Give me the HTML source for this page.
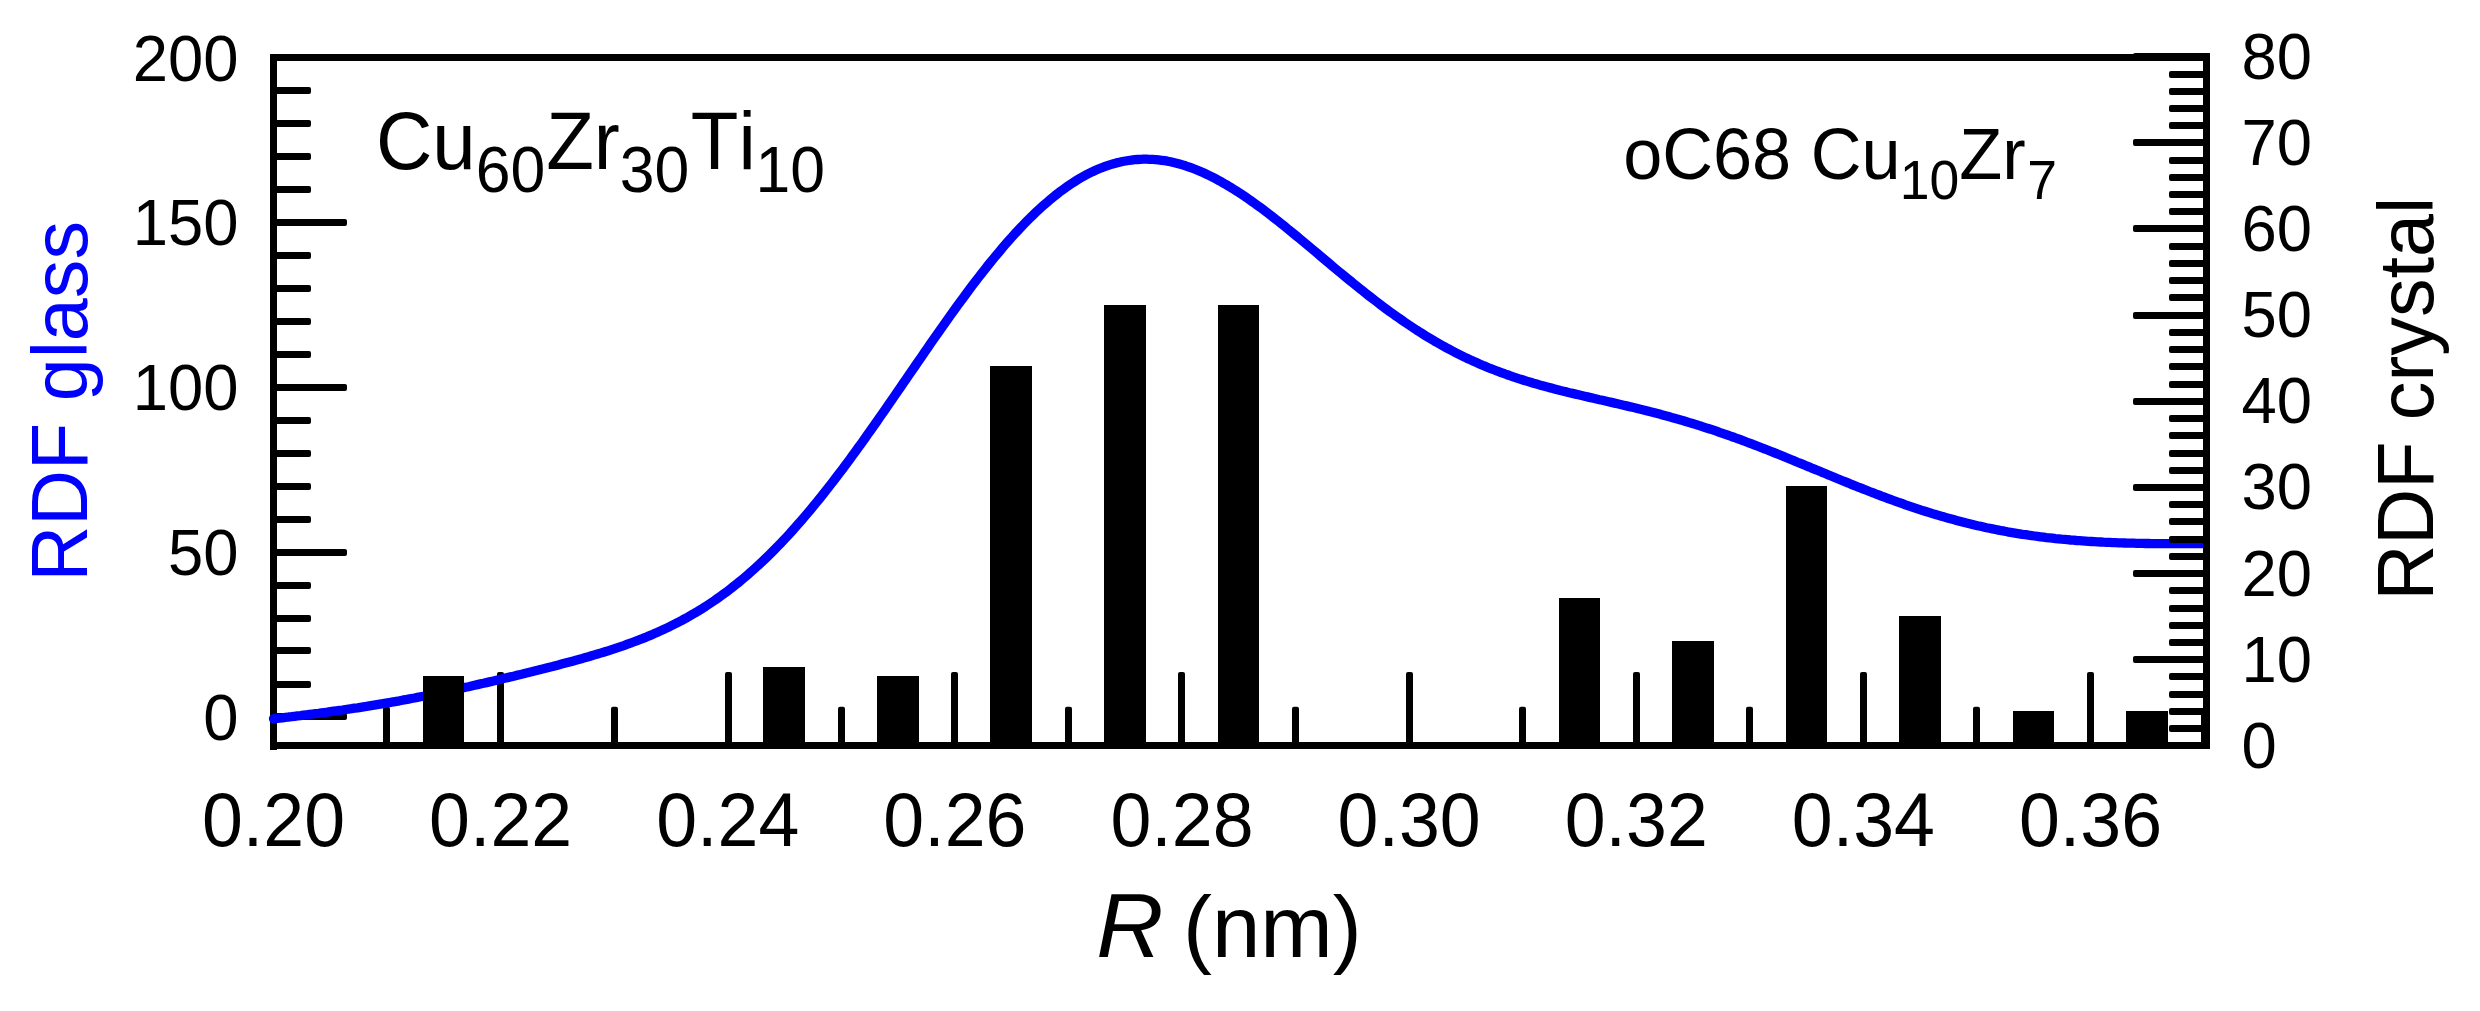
<!DOCTYPE html>
<html lang="en"><head><meta charset="utf-8"><title>RDF glass vs crystal</title>
<style>html,body{margin:0;padding:0;background:#fff;}body{width:2480px;height:1011px;overflow:hidden;}svg{display:block;}text{font-family:"Liberation Sans",sans-serif;font-kerning:none;}</style></head><body>
<svg width="2480" height="1011" viewBox="0 0 2480 1011">
<rect width="2480" height="1011" fill="#fff"/>
<g fill="#000">
<rect x="273.50" y="713.00" width="73.50" height="7" rx="2"/>
<rect x="273.50" y="681.00" width="37.50" height="7" rx="2"/>
<rect x="273.50" y="647.00" width="37.50" height="7" rx="2"/>
<rect x="273.50" y="615.00" width="37.50" height="7" rx="2"/>
<rect x="273.50" y="582.00" width="37.50" height="7" rx="2"/>
<rect x="273.50" y="549.00" width="73.50" height="7" rx="2"/>
<rect x="273.50" y="516.00" width="37.50" height="7" rx="2"/>
<rect x="273.50" y="483.00" width="37.50" height="7" rx="2"/>
<rect x="273.50" y="450.00" width="37.50" height="7" rx="2"/>
<rect x="273.50" y="417.00" width="37.50" height="7" rx="2"/>
<rect x="273.50" y="384.00" width="73.50" height="7" rx="2"/>
<rect x="273.50" y="351.00" width="37.50" height="7" rx="2"/>
<rect x="273.50" y="318.00" width="37.50" height="7" rx="2"/>
<rect x="273.50" y="285.00" width="37.50" height="7" rx="2"/>
<rect x="273.50" y="252.00" width="37.50" height="7" rx="2"/>
<rect x="273.50" y="219.00" width="73.50" height="7" rx="2"/>
<rect x="273.50" y="186.00" width="37.50" height="7" rx="2"/>
<rect x="273.50" y="153.00" width="37.50" height="7" rx="2"/>
<rect x="273.50" y="120.00" width="37.50" height="7" rx="2"/>
<rect x="273.50" y="87.00" width="37.50" height="7" rx="2"/>
<rect x="383.00" y="706.75" width="7" height="38.75" rx="2"/>
<rect x="497.00" y="672.00" width="7" height="73.50" rx="2"/>
<rect x="611.00" y="706.75" width="7" height="38.75" rx="2"/>
<rect x="725.00" y="672.00" width="7" height="73.50" rx="2"/>
<rect x="838.00" y="706.75" width="7" height="38.75" rx="2"/>
<rect x="951.00" y="672.00" width="7" height="73.50" rx="2"/>
<rect x="1065.00" y="706.75" width="7" height="38.75" rx="2"/>
<rect x="1178.00" y="672.00" width="7" height="73.50" rx="2"/>
<rect x="1292.00" y="706.75" width="7" height="38.75" rx="2"/>
<rect x="1406.00" y="672.00" width="7" height="73.50" rx="2"/>
<rect x="1519.00" y="706.75" width="7" height="38.75" rx="2"/>
<rect x="1633.00" y="672.00" width="7" height="73.50" rx="2"/>
<rect x="1746.00" y="706.75" width="7" height="38.75" rx="2"/>
<rect x="1860.00" y="672.00" width="7" height="73.50" rx="2"/>
<rect x="1973.00" y="706.75" width="7" height="38.75" rx="2"/>
<rect x="2087.00" y="672.00" width="7" height="73.50" rx="2"/>
</g>
<g stroke="#000" stroke-width="7" stroke-linecap="square" stroke-linejoin="miter" fill="none">
<polyline points="273.5,746.5 273.5,57.5 2206.5,57.5"/>
<line x1="273.5" y1="745.5" x2="2206.5" y2="745.5"/>
</g>
<path d="M273.5,718.8 L276.5,718.5 L279.5,718.1 L282.5,717.8 L285.5,717.4 L288.5,717.0 L291.5,716.7 L294.5,716.3 L297.5,715.9 L300.5,715.6 L303.5,715.2 L306.5,714.8 L309.5,714.4 L312.5,714.0 L315.5,713.6 L318.5,713.3 L321.5,712.9 L324.5,712.5 L327.5,712.1 L330.5,711.6 L333.5,711.2 L336.5,710.8 L339.5,710.4 L342.5,710.0 L345.5,709.5 L348.5,709.1 L351.5,708.7 L354.5,708.2 L357.5,707.8 L360.5,707.3 L363.5,706.8 L366.5,706.4 L369.5,705.9 L372.5,705.4 L375.5,704.9 L378.5,704.4 L381.5,703.9 L384.5,703.4 L387.5,702.9 L390.5,702.4 L393.5,701.8 L396.5,701.3 L399.5,700.8 L402.5,700.2 L405.5,699.7 L408.5,699.1 L411.5,698.5 L414.5,698.0 L417.5,697.4 L420.5,696.8 L423.5,696.2 L426.5,695.6 L429.5,695.0 L432.5,694.4 L435.5,693.8 L438.5,693.2 L441.5,692.5 L444.5,691.9 L447.5,691.3 L450.5,690.6 L453.5,690.0 L456.5,689.3 L459.5,688.7 L462.5,688.0 L465.5,687.3 L468.5,686.7 L471.5,686.0 L474.5,685.3 L477.5,684.6 L480.5,683.9 L483.5,683.3 L486.5,682.6 L489.5,681.9 L492.5,681.2 L495.5,680.5 L498.5,679.8 L501.5,679.0 L504.5,678.3 L507.5,677.6 L510.5,676.9 L513.5,676.2 L516.5,675.4 L519.5,674.7 L522.5,674.0 L525.5,673.2 L528.5,672.5 L531.5,671.8 L534.5,671.0 L537.5,670.3 L540.5,669.5 L543.5,668.8 L546.5,668.0 L549.5,667.2 L552.5,666.5 L555.5,665.7 L558.5,664.9 L561.5,664.1 L564.5,663.3 L567.5,662.5 L570.5,661.7 L573.5,660.9 L576.5,660.1 L579.5,659.2 L582.5,658.4 L585.5,657.5 L588.5,656.7 L591.5,655.8 L594.5,654.9 L597.5,654.0 L600.5,653.1 L603.5,652.2 L606.5,651.3 L609.5,650.3 L612.5,649.3 L615.5,648.3 L618.5,647.3 L621.5,646.3 L624.5,645.3 L627.5,644.2 L630.5,643.1 L633.5,642.0 L636.5,640.9 L639.5,639.7 L642.5,638.6 L645.5,637.4 L648.5,636.1 L651.5,634.9 L654.5,633.6 L657.5,632.3 L660.5,630.9 L663.5,629.5 L666.5,628.1 L669.5,626.7 L672.5,625.2 L675.5,623.7 L678.5,622.1 L681.5,620.6 L684.5,618.9 L687.5,617.3 L690.5,615.6 L693.5,613.8 L696.5,612.1 L699.5,610.2 L702.5,608.4 L705.5,606.5 L708.5,604.5 L711.5,602.5 L714.5,600.5 L717.5,598.4 L720.5,596.3 L723.5,594.1 L726.5,591.9 L729.5,589.6 L732.5,587.3 L735.5,584.9 L738.5,582.5 L741.5,580.0 L744.5,577.5 L747.5,574.9 L750.5,572.3 L753.5,569.6 L756.5,566.9 L759.5,564.2 L762.5,561.3 L765.5,558.5 L768.5,555.6 L771.5,552.6 L774.5,549.6 L777.5,546.5 L780.5,543.4 L783.5,540.3 L786.5,537.1 L789.5,533.8 L792.5,530.5 L795.5,527.1 L798.5,523.7 L801.5,520.3 L804.5,516.8 L807.5,513.3 L810.5,509.7 L813.5,506.1 L816.5,502.4 L819.5,498.7 L822.5,495.0 L825.5,491.2 L828.5,487.4 L831.5,483.5 L834.5,479.6 L837.5,475.7 L840.5,471.7 L843.5,467.8 L846.5,463.7 L849.5,459.7 L852.5,455.6 L855.5,451.5 L858.5,447.3 L861.5,443.2 L864.5,439.0 L867.5,434.7 L870.5,430.5 L873.5,426.3 L876.5,422.0 L879.5,417.7 L882.5,413.4 L885.5,409.1 L888.5,404.7 L891.5,400.4 L894.5,396.0 L897.5,391.7 L900.5,387.3 L903.5,382.9 L906.5,378.6 L909.5,374.2 L912.5,369.8 L915.5,365.5 L918.5,361.1 L921.5,356.8 L924.5,352.4 L927.5,348.1 L930.5,343.7 L933.5,339.4 L936.5,335.1 L939.5,330.8 L942.5,326.6 L945.5,322.3 L948.5,318.1 L951.5,313.9 L954.5,309.7 L957.5,305.6 L960.5,301.5 L963.5,297.4 L966.5,293.4 L969.5,289.3 L972.5,285.3 L975.5,281.4 L978.5,277.5 L981.5,273.6 L984.5,269.8 L987.5,266.0 L990.5,262.3 L993.5,258.6 L996.5,255.0 L999.5,251.4 L1002.5,247.8 L1005.5,244.3 L1008.5,240.9 L1011.5,237.5 L1014.5,234.2 L1017.5,231.0 L1020.5,227.8 L1023.5,224.6 L1026.5,221.5 L1029.5,218.5 L1032.5,215.6 L1035.5,212.7 L1038.5,209.9 L1041.5,207.1 L1044.5,204.5 L1047.5,201.9 L1050.5,199.3 L1053.5,196.9 L1056.5,194.5 L1059.5,192.1 L1062.5,189.9 L1065.5,187.7 L1068.5,185.6 L1071.5,183.6 L1074.5,181.7 L1077.5,179.8 L1080.5,178.0 L1083.5,176.3 L1086.5,174.7 L1089.5,173.2 L1092.5,171.7 L1095.5,170.3 L1098.5,169.0 L1101.5,167.8 L1104.5,166.7 L1107.5,165.6 L1110.5,164.6 L1113.5,163.7 L1116.5,162.9 L1119.5,162.2 L1122.5,161.5 L1125.5,161.0 L1128.5,160.5 L1131.5,160.1 L1134.5,159.7 L1137.5,159.5 L1140.5,159.3 L1143.5,159.2 L1146.5,159.2 L1149.5,159.3 L1152.5,159.4 L1155.5,159.6 L1158.5,159.9 L1161.5,160.3 L1164.5,160.7 L1167.5,161.2 L1170.5,161.8 L1173.5,162.5 L1176.5,163.2 L1179.5,164.0 L1182.5,164.9 L1185.5,165.8 L1188.5,166.8 L1191.5,167.9 L1194.5,169.0 L1197.5,170.2 L1200.5,171.5 L1203.5,172.8 L1206.5,174.2 L1209.5,175.6 L1212.5,177.1 L1215.5,178.7 L1218.5,180.3 L1221.5,181.9 L1224.5,183.7 L1227.5,185.4 L1230.5,187.2 L1233.5,189.1 L1236.5,191.0 L1239.5,192.9 L1242.5,194.9 L1245.5,196.9 L1248.5,199.0 L1251.5,201.1 L1254.5,203.2 L1257.5,205.4 L1260.5,207.6 L1263.5,209.8 L1266.5,212.1 L1269.5,214.4 L1272.5,216.7 L1275.5,219.1 L1278.5,221.4 L1281.5,223.8 L1284.5,226.2 L1287.5,228.7 L1290.5,231.1 L1293.5,233.6 L1296.5,236.0 L1299.5,238.5 L1302.5,241.0 L1305.5,243.5 L1308.5,246.0 L1311.5,248.5 L1314.5,251.0 L1317.5,253.6 L1320.5,256.1 L1323.5,258.6 L1326.5,261.1 L1329.5,263.6 L1332.5,266.2 L1335.5,268.7 L1338.5,271.2 L1341.5,273.6 L1344.5,276.1 L1347.5,278.6 L1350.5,281.0 L1353.5,283.5 L1356.5,285.9 L1359.5,288.3 L1362.5,290.7 L1365.5,293.1 L1368.5,295.5 L1371.5,297.8 L1374.5,300.1 L1377.5,302.4 L1380.5,304.7 L1383.5,306.9 L1386.5,309.2 L1389.5,311.4 L1392.5,313.5 L1395.5,315.7 L1398.5,317.8 L1401.5,319.9 L1404.5,322.0 L1407.5,324.0 L1410.5,326.0 L1413.5,328.0 L1416.5,330.0 L1419.5,331.9 L1422.5,333.8 L1425.5,335.7 L1428.5,337.5 L1431.5,339.3 L1434.5,341.1 L1437.5,342.8 L1440.5,344.5 L1443.5,346.2 L1446.5,347.8 L1449.5,349.4 L1452.5,351.0 L1455.5,352.6 L1458.5,354.1 L1461.5,355.6 L1464.5,357.1 L1467.5,358.5 L1470.5,359.9 L1473.5,361.3 L1476.5,362.6 L1479.5,363.9 L1482.5,365.2 L1485.5,366.4 L1488.5,367.7 L1491.5,368.9 L1494.5,370.0 L1497.5,371.2 L1500.5,372.3 L1503.5,373.4 L1506.5,374.5 L1509.5,375.5 L1512.5,376.6 L1515.5,377.6 L1518.5,378.6 L1521.5,379.5 L1524.5,380.5 L1527.5,381.4 L1530.5,382.3 L1533.5,383.2 L1536.5,384.0 L1539.5,384.9 L1542.5,385.7 L1545.5,386.5 L1548.5,387.4 L1551.5,388.1 L1554.5,388.9 L1557.5,389.7 L1560.5,390.5 L1563.5,391.2 L1566.5,391.9 L1569.5,392.7 L1572.5,393.4 L1575.5,394.1 L1578.5,394.8 L1581.5,395.5 L1584.5,396.2 L1587.5,396.9 L1590.5,397.6 L1593.5,398.3 L1596.5,399.0 L1599.5,399.7 L1602.5,400.3 L1605.5,401.0 L1608.5,401.7 L1611.5,402.4 L1614.5,403.1 L1617.5,403.8 L1620.5,404.5 L1623.5,405.2 L1626.5,405.9 L1629.5,406.6 L1632.5,407.3 L1635.5,408.0 L1638.5,408.8 L1641.5,409.5 L1644.5,410.2 L1647.5,411.0 L1650.5,411.8 L1653.5,412.5 L1656.5,413.3 L1659.5,414.1 L1662.5,414.9 L1665.5,415.7 L1668.5,416.5 L1671.5,417.4 L1674.5,418.2 L1677.5,419.1 L1680.5,419.9 L1683.5,420.8 L1686.5,421.7 L1689.5,422.6 L1692.5,423.5 L1695.5,424.4 L1698.5,425.4 L1701.5,426.3 L1704.5,427.3 L1707.5,428.3 L1710.5,429.2 L1713.5,430.2 L1716.5,431.2 L1719.5,432.3 L1722.5,433.3 L1725.5,434.3 L1728.5,435.4 L1731.5,436.5 L1734.5,437.5 L1737.5,438.6 L1740.5,439.7 L1743.5,440.8 L1746.5,442.0 L1749.5,443.1 L1752.5,444.2 L1755.5,445.4 L1758.5,446.5 L1761.5,447.7 L1764.5,448.9 L1767.5,450.0 L1770.5,451.2 L1773.5,452.4 L1776.5,453.6 L1779.5,454.8 L1782.5,456.0 L1785.5,457.3 L1788.5,458.5 L1791.5,459.7 L1794.5,460.9 L1797.5,462.2 L1800.5,463.4 L1803.5,464.6 L1806.5,465.9 L1809.5,467.1 L1812.5,468.4 L1815.5,469.6 L1818.5,470.8 L1821.5,472.1 L1824.5,473.3 L1827.5,474.6 L1830.5,475.8 L1833.5,477.0 L1836.5,478.3 L1839.5,479.5 L1842.5,480.7 L1845.5,481.9 L1848.5,483.1 L1851.5,484.4 L1854.5,485.6 L1857.5,486.8 L1860.5,487.9 L1863.5,489.1 L1866.5,490.3 L1869.5,491.5 L1872.5,492.6 L1875.5,493.8 L1878.5,494.9 L1881.5,496.1 L1884.5,497.2 L1887.5,498.3 L1890.5,499.4 L1893.5,500.5 L1896.5,501.6 L1899.5,502.6 L1902.5,503.7 L1905.5,504.8 L1908.5,505.8 L1911.5,506.8 L1914.5,507.8 L1917.5,508.8 L1920.5,509.8 L1923.5,510.8 L1926.5,511.7 L1929.5,512.6 L1932.5,513.6 L1935.5,514.5 L1938.5,515.4 L1941.5,516.3 L1944.5,517.1 L1947.5,518.0 L1950.5,518.8 L1953.5,519.6 L1956.5,520.4 L1959.5,521.2 L1962.5,522.0 L1965.5,522.8 L1968.5,523.5 L1971.5,524.2 L1974.5,525.0 L1977.5,525.7 L1980.5,526.3 L1983.5,527.0 L1986.5,527.7 L1989.5,528.3 L1992.5,528.9 L1995.5,529.5 L1998.5,530.1 L2001.5,530.7 L2004.5,531.2 L2007.5,531.8 L2010.5,532.3 L2013.5,532.8 L2016.5,533.3 L2019.5,533.8 L2022.5,534.3 L2025.5,534.7 L2028.5,535.2 L2031.5,535.6 L2034.5,536.0 L2037.5,536.4 L2040.5,536.8 L2043.5,537.2 L2046.5,537.6 L2049.5,537.9 L2052.5,538.2 L2055.5,538.6 L2058.5,538.9 L2061.5,539.2 L2064.5,539.4 L2067.5,539.7 L2070.5,540.0 L2073.5,540.2 L2076.5,540.5 L2079.5,540.7 L2082.5,540.9 L2085.5,541.1 L2088.5,541.3 L2091.5,541.5 L2094.5,541.7 L2097.5,541.9 L2100.5,542.0 L2103.5,542.2 L2106.5,542.3 L2109.5,542.4 L2112.5,542.6 L2115.5,542.7 L2118.5,542.8 L2121.5,542.9 L2124.5,543.0 L2127.5,543.1 L2130.5,543.2 L2133.5,543.2 L2136.5,543.3 L2139.5,543.4 L2142.5,543.4 L2145.5,543.5 L2148.5,543.5 L2151.5,543.6 L2154.5,543.6 L2157.5,543.6 L2160.5,543.6 L2163.5,543.7 L2166.5,543.7 L2169.5,543.7 L2172.5,543.7 L2175.5,543.7 L2178.5,543.7 L2181.5,543.7 L2184.5,543.7 L2187.5,543.7 L2190.5,543.7 L2193.5,543.7 L2196.5,543.7 L2199.5,543.7 L2202.5,543.7" fill="none" stroke="#0000ff" stroke-width="9.3" stroke-linecap="round" stroke-linejoin="round"/>
<g fill="#000">
<rect x="2169.00" y="725.00" width="37.50" height="7" rx="2"/>
<rect x="2169.00" y="708.00" width="37.50" height="7" rx="2"/>
<rect x="2169.00" y="691.00" width="37.50" height="7" rx="2"/>
<rect x="2169.00" y="673.00" width="37.50" height="7" rx="2"/>
<rect x="2133.00" y="656.00" width="73.50" height="7" rx="2"/>
<rect x="2169.00" y="639.00" width="37.50" height="7" rx="2"/>
<rect x="2169.00" y="622.00" width="37.50" height="7" rx="2"/>
<rect x="2169.00" y="605.00" width="37.50" height="7" rx="2"/>
<rect x="2169.00" y="587.00" width="37.50" height="7" rx="2"/>
<rect x="2133.00" y="570.00" width="73.50" height="7" rx="2"/>
<rect x="2169.00" y="553.00" width="37.50" height="7" rx="2"/>
<rect x="2169.00" y="536.00" width="37.50" height="7" rx="2"/>
<rect x="2169.00" y="518.00" width="37.50" height="7" rx="2"/>
<rect x="2169.00" y="501.00" width="37.50" height="7" rx="2"/>
<rect x="2133.00" y="484.00" width="73.50" height="7" rx="2"/>
<rect x="2169.00" y="467.00" width="37.50" height="7" rx="2"/>
<rect x="2169.00" y="450.00" width="37.50" height="7" rx="2"/>
<rect x="2169.00" y="432.00" width="37.50" height="7" rx="2"/>
<rect x="2169.00" y="415.00" width="37.50" height="7" rx="2"/>
<rect x="2133.00" y="398.00" width="73.50" height="7" rx="2"/>
<rect x="2169.00" y="381.00" width="37.50" height="7" rx="2"/>
<rect x="2169.00" y="363.00" width="37.50" height="7" rx="2"/>
<rect x="2169.00" y="346.00" width="37.50" height="7" rx="2"/>
<rect x="2169.00" y="329.00" width="37.50" height="7" rx="2"/>
<rect x="2133.00" y="312.00" width="73.50" height="7" rx="2"/>
<rect x="2169.00" y="294.00" width="37.50" height="7" rx="2"/>
<rect x="2169.00" y="277.00" width="37.50" height="7" rx="2"/>
<rect x="2169.00" y="260.00" width="37.50" height="7" rx="2"/>
<rect x="2169.00" y="243.00" width="37.50" height="7" rx="2"/>
<rect x="2133.00" y="225.00" width="73.50" height="7" rx="2"/>
<rect x="2169.00" y="208.00" width="37.50" height="7" rx="2"/>
<rect x="2169.00" y="191.00" width="37.50" height="7" rx="2"/>
<rect x="2169.00" y="174.00" width="37.50" height="7" rx="2"/>
<rect x="2169.00" y="157.00" width="37.50" height="7" rx="2"/>
<rect x="2133.00" y="139.00" width="73.50" height="7" rx="2"/>
<rect x="2169.00" y="122.00" width="37.50" height="7" rx="2"/>
<rect x="2169.00" y="105.00" width="37.50" height="7" rx="2"/>
<rect x="2169.00" y="88.00" width="37.50" height="7" rx="2"/>
<rect x="2169.00" y="71.00" width="37.50" height="7" rx="2"/>
<rect x="2133.00" y="53.00" width="73.50" height="7" rx="2"/>
</g>
<line x1="2206.5" y1="56.5" x2="2206.5" y2="745.5" stroke="#000" stroke-width="7" stroke-linecap="square"/>
<g fill="#000" shape-rendering="crispEdges">
<rect x="423" y="676" width="41" height="69.5"/>
<rect x="763" y="667" width="42" height="78.5"/>
<rect x="877" y="676" width="42" height="69.5"/>
<rect x="990" y="366" width="42" height="379.5"/>
<rect x="1104" y="305" width="42" height="440.5"/>
<rect x="1218" y="305" width="41" height="440.5"/>
<rect x="1559" y="598" width="41" height="147.5"/>
<rect x="1672" y="641" width="42" height="104.5"/>
<rect x="1786" y="486" width="41" height="259.5"/>
<rect x="1899" y="615.5" width="42" height="130.0"/>
<rect x="2013" y="711" width="41" height="34.5"/>
<rect x="2126" y="711" width="42" height="34.5"/>
<rect x="2201" y="714.5" width="3" height="30"/>
</g>
<text transform="translate(238.50,739.50) scale(1,1.023)" font-size="63.4" text-anchor="end" fill="#000">0</text>
<text transform="translate(238.50,575.12) scale(1,1.023)" font-size="63.4" text-anchor="end" fill="#000">50</text>
<text transform="translate(238.50,410.25) scale(1,1.023)" font-size="63.4" text-anchor="end" fill="#000">100</text>
<text transform="translate(238.50,245.38) scale(1,1.023)" font-size="63.4" text-anchor="end" fill="#000">150</text>
<text transform="translate(238.50,80.50) scale(1,1.023)" font-size="63.4" text-anchor="end" fill="#000">200</text>
<text transform="translate(2241.50,767.60) scale(1,1.023)" font-size="63.4" text-anchor="start" fill="#000">0</text>
<text transform="translate(2241.50,681.55) scale(1,1.023)" font-size="63.4" text-anchor="start" fill="#000">10</text>
<text transform="translate(2241.50,595.50) scale(1,1.023)" font-size="63.4" text-anchor="start" fill="#000">20</text>
<text transform="translate(2241.50,509.45) scale(1,1.023)" font-size="63.4" text-anchor="start" fill="#000">30</text>
<text transform="translate(2241.50,423.40) scale(1,1.023)" font-size="63.4" text-anchor="start" fill="#000">40</text>
<text transform="translate(2241.50,337.35) scale(1,1.023)" font-size="63.4" text-anchor="start" fill="#000">50</text>
<text transform="translate(2241.50,251.30) scale(1,1.023)" font-size="63.4" text-anchor="start" fill="#000">60</text>
<text transform="translate(2241.50,165.25) scale(1,1.023)" font-size="63.4" text-anchor="start" fill="#000">70</text>
<text transform="translate(2241.50,79.20) scale(1,1.023)" font-size="63.4" text-anchor="start" fill="#000">80</text>
<text transform="translate(273.50,846.20) scale(1,1.023)" font-size="73.5" text-anchor="middle" fill="#000">0.20</text>
<text transform="translate(500.62,846.20) scale(1,1.023)" font-size="73.5" text-anchor="middle" fill="#000">0.22</text>
<text transform="translate(727.75,846.20) scale(1,1.023)" font-size="73.5" text-anchor="middle" fill="#000">0.24</text>
<text transform="translate(954.88,846.20) scale(1,1.023)" font-size="73.5" text-anchor="middle" fill="#000">0.26</text>
<text transform="translate(1182.00,846.20) scale(1,1.023)" font-size="73.5" text-anchor="middle" fill="#000">0.28</text>
<text transform="translate(1409.13,846.20) scale(1,1.023)" font-size="73.5" text-anchor="middle" fill="#000">0.30</text>
<text transform="translate(1636.25,846.20) scale(1,1.023)" font-size="73.5" text-anchor="middle" fill="#000">0.32</text>
<text transform="translate(1863.38,846.20) scale(1,1.023)" font-size="73.5" text-anchor="middle" fill="#000">0.34</text>
<text transform="translate(2090.50,846.20) scale(1,1.023)" font-size="73.5" text-anchor="middle" fill="#000">0.36</text>
<text transform="translate(1096.30,956.85) scale(1.07,1.045)" font-size="87" fill="#000" font-style="italic">R</text>
<text transform="translate(1183.00,956.85)" font-size="87" text-anchor="start" fill="#000">(nm)</text>
<text transform="translate(86.75,581.50) rotate(-90) scale(1,1.04)" font-size="77.25" text-anchor="start" fill="#0000ff">RDF</text>
<text transform="translate(86.75,401.28) rotate(-90)" font-size="77.25" text-anchor="start" fill="#0000ff">glass</text>
<text transform="translate(2432.50,600.50) rotate(-90) scale(1,1.04)" font-size="77.3" text-anchor="start" fill="#000">RDF</text>
<text transform="translate(2432.50,420.16) rotate(-90)" font-size="77.3" text-anchor="start" fill="#000">crystal</text>
<text transform="translate(375.94,169.00) scale(1,1.05)" font-size="78" text-anchor="start" fill="#000">Cu</text>
<text transform="translate(475.80,191.90) scale(1,1.04)" font-size="62.5" text-anchor="start" fill="#000">60</text>
<text transform="translate(546.20,169.00) scale(1,1.05)" font-size="78" text-anchor="start" fill="#000">Zr</text>
<text transform="translate(619.70,191.90) scale(1,1.04)" font-size="62.5" text-anchor="start" fill="#000">30</text>
<text transform="translate(690.75,169.00) scale(1,1.05)" font-size="78" text-anchor="start" fill="#000">Ti</text>
<text transform="translate(755.50,191.90) scale(1,1.04)" font-size="62.5" text-anchor="start" fill="#000">10</text>
<text transform="translate(1623.15,179.40) scale(1,1.03)" font-size="70.3" text-anchor="start" fill="#000">oC68 Cu</text>
<text transform="translate(1899.70,199.30) scale(1,1.04)" font-size="53.5" text-anchor="start" fill="#000">10</text>
<text transform="translate(1959.30,179.40) scale(1,1.03)" font-size="70.3" text-anchor="start" fill="#000">Zr</text>
<text transform="translate(2027.25,199.30) scale(1,1.04)" font-size="53.5" text-anchor="start" fill="#000">7</text>
</svg></body></html>
